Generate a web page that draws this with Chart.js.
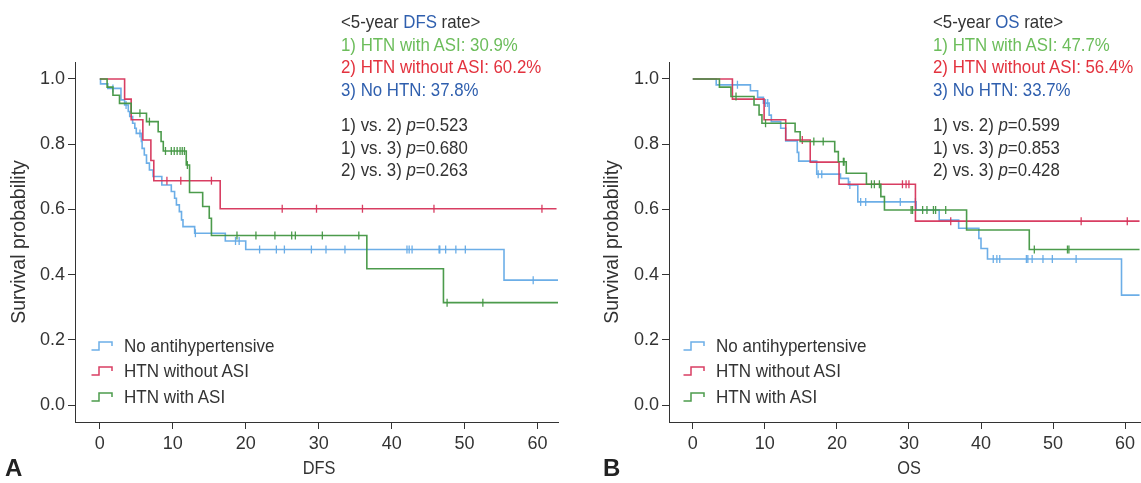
<!DOCTYPE html>
<html>
<head>
<meta charset="utf-8">
<script src="https://cdn.jsdelivr.net/npm/chart.js@4.4.0/dist/chart.umd.min.js"></script>
<style>
  body {
    margin: 0;
    background: #fff;
    width: 1141px;
    height: 483px;
    overflow: hidden;
    position: relative;
    font-family: "Liberation Sans", Arial, sans-serif;
    color: #333;
  }
  canvas { position: absolute; top: 0; }
  #dfsChart { left: 0; }
  #osChart { left: 575px; }
  /* the source figure uses a condensed face, so squeeze the text horizontally */
  .note { position: absolute; font-size: 18.5px; line-height: 22.5px; white-space: nowrap; transform: scaleX(0.91); transform-origin: left top; }
  .legend { position: absolute; font-size: 18.5px; white-space: nowrap; }
  .legend .row { display: flex; align-items: center; height: 25.5px; }
  .legend svg { margin-right: 11px; }
  .legend span { display: inline-block; transform: scaleX(0.92); transform-origin: left center; }
  .xtitle { position: absolute; top: 457px; font-size: 19px; line-height: 22px; transform: translateX(-50%) scaleX(0.86); white-space: nowrap; }
  .panel { position: absolute; top: 455px; font-weight: bold; font-size: 24px; line-height: 26px; color: #222; }
  .g { color: #6cbd5b; }
  .r { color: #e3323e; }
  .b { color: #2f5fae; }
  .p { font-style: italic; }
</style>
</head>
<body>
<canvas id="dfsChart" width="575" height="483"></canvas>
<canvas id="osChart" width="590" height="483"></canvas>

<div class="note" style="left:341px; top:11px">
  &lt;5-year <span class="b">DFS</span> rate&gt;<br>
  <span class="g">1) HTN with ASI: 30.9%</span><br>
  <span class="r">2) HTN without ASI: 60.2%</span><br>
  <span class="b">3) No HTN: 37.8%</span>
</div>
<div class="note" style="left:341px; top:114px">
  1) vs. 2) <span class="p">p</span>=0.523<br>
  1) vs. 3) <span class="p">p</span>=0.680<br>
  2) vs. 3) <span class="p">p</span>=0.263
</div>

<div class="note" style="left:933px; top:11px">
  &lt;5-year <span class="b">OS</span> rate&gt;<br>
  <span class="g">1) HTN with ASI: 47.7%</span><br>
  <span class="r">2) HTN without ASI: 56.4%</span><br>
  <span class="b">3) No HTN: 33.7%</span>
</div>
<div class="note" style="left:933px; top:114px">
  1) vs. 2) <span class="p">p</span>=0.599<br>
  1) vs. 3) <span class="p">p</span>=0.853<br>
  2) vs. 3) <span class="p">p</span>=0.428
</div>

<div class="legend" id="dfsLegend" style="left:91px; top:333px"></div>
<div class="legend" id="osLegend" style="left:683px; top:333px"></div>

<div class="xtitle" id="dfsTitle">DFS</div>
<div class="xtitle" id="osTitle">OS</div>
<div class="panel" style="left:5px">A</div>
<div class="panel" style="left:603px">B</div>

<script>
// axis ticks
const xTicks = [0, 10, 20, 30, 40, 50, 60];
const yTicks = [0, 0.2, 0.4, 0.6, 0.8, 1.0];

const legendLabels = ['No antihypertensive', 'HTN without ASI', 'HTN with ASI'];
const blueColor = 'rgba(100, 170, 230, 0.95)';
const redColor = 'rgba(214, 52, 90, 0.95)';
const greenColor = 'rgba(66, 150, 66, 0.95)';
const legendColors = [blueColor, redColor, greenColor];

// DFS - step points (time, survival after the drop) and censored times
const dfsBlueT = [0, 0.1, 1.1, 2.9, 3.4, 3.9, 4.1, 4.5, 4.8, 5.0, 5.7, 5.8, 6.1, 6.4, 6.8, 7.3, 8.5, 9.8, 10.25, 10.5, 10.9, 11.2, 11.4, 13.0, 17.2, 20.0, 55.4, 62.8];
const dfsBlueS = [1, 0.985, 0.971, 0.936, 0.92, 0.90, 0.885, 0.864, 0.849, 0.833, 0.808, 0.787, 0.767, 0.742, 0.721, 0.701, 0.675, 0.655, 0.634, 0.614, 0.593, 0.568, 0.547, 0.527, 0.503, 0.477, 0.383, 0.383];
const dfsBlueCens = [1.8, 3.6, 5.5, 13.1, 18.6, 19.1, 21.9, 24.2, 25.3, 29.0, 31.0, 33.6, 42.1, 42.4, 42.8, 46.5, 46.6, 47.4, 48.8, 50.1, 59.4];

const dfsRedT = [0, 3.4, 4.3, 5.9, 7.0, 7.4, 16.5, 62.6];
const dfsRedS = [1, 0.938, 0.875, 0.813, 0.75, 0.688, 0.602, 0.602];
const dfsRedCens = [9.2, 11.1, 15.3, 25.0, 29.7, 36.0, 45.8, 60.6];

const dfsGreenT = [0, 1.0, 1.8, 2.7, 4.3, 6.4, 8.0, 8.4, 8.7, 11.85, 12.3, 14.1, 15.0, 15.3, 36.6, 47.1, 62.8];
const dfsGreenS = [1, 0.975, 0.95, 0.925, 0.895, 0.869, 0.838, 0.808, 0.779, 0.736, 0.652, 0.609, 0.573, 0.52, 0.418, 0.314, 0.314];
const dfsGreenCens = [5.5, 6.8, 9.0, 9.8, 10.2, 10.6, 11.0, 11.3, 11.6, 12.0, 18.8, 21.4, 24.0, 26.3, 26.8, 30.5, 35.5, 47.6, 52.5];

// OS
const osBlueT = [0, 3.25, 8.0, 9.0, 9.8, 10.6, 10.9, 12.2, 12.9, 14.5, 14.7, 17.2, 20.5, 21.6, 22.9, 31.0, 34.2, 36.9, 39.7, 40.0, 40.9, 59.5, 62];
const osBlueS = [1, 0.982, 0.964, 0.944, 0.926, 0.889, 0.869, 0.849, 0.81, 0.775, 0.748, 0.708, 0.695, 0.675, 0.623, 0.598, 0.567, 0.542, 0.511, 0.48, 0.448, 0.337, 0.337];
const osBlueCens = [6.2, 10.1, 10.4, 17.4, 17.9, 21.8, 23.3, 24.0, 28.8, 30.9, 41.7, 42.2, 42.6, 46.3, 46.5, 47.1, 48.6, 49.9, 53.2];

const osRedT = [0, 5.5, 9.9, 12.9, 16.3, 20.3, 30.9, 62];
const osRedS = [1, 0.938, 0.875, 0.813, 0.745, 0.677, 0.564, 0.564];
const osRedCens = [15.2, 29.1, 29.6, 30.0, 35.8, 53.9, 60.3];

const osGreenT = [0, 3.7, 5.3, 8.5, 9.2, 9.6, 14.2, 14.9, 19.7, 20.2, 21.3, 24.1, 26.1, 26.6, 38.0, 46.7, 62];
const osGreenS = [1, 0.975, 0.946, 0.92, 0.89, 0.864, 0.838, 0.808, 0.777, 0.746, 0.711, 0.677, 0.639, 0.598, 0.537, 0.477, 0.477];
const osGreenCens = [6.0, 10.1, 16.8, 18.1, 20.9, 21.0, 24.8, 25.2, 25.9, 30.3, 30.5, 31.9, 32.5, 33.4, 33.7, 35.1, 47.4, 52.0, 52.2];

const fontFamily = '"Liberation Sans", Arial, sans-serif';

function stepPoints(times, surv) {
    return times.map((t, i) => ({ x: t, y: surv[i] }));
}

// censor marks sit on the curve: take the survival of the last step at or before the time
function censorPoints(cens, times, surv) {
    return cens.map(c => {
        let s = surv[0];
        for (let i = 0; i < times.length; i++) {
            if (times[i] <= c) s = surv[i];
        }
        return { x: c, y: s };
    });
}

function drawKM(id, curves, xMin, xMax, yWidth, rightPad, titlePad) {
    const datasets = [];
    curves.forEach(c => {
        datasets.push({
            data: stepPoints(c.t, c.s), stepped: true, borderColor: c.color,
            borderWidth: 1.6, pointRadius: 0, fill: false
        });
        datasets.push({
            data: censorPoints(c.cens, c.t, c.s), showLine: false, pointStyle: 'line',
            rotation: 90, pointRadius: 4, borderColor: c.color, borderWidth: 1.3
        });
    });

    const axisGrid = { drawOnChartArea: false, drawTicks: true, tickLength: 7, color: '#333' };
    const axisBorder = { display: true, color: '#333', width: 1 };

    return new Chart(document.getElementById(id), {
        type: 'line',
        data: { datasets },
        options: {
            responsive: false,
            animation: false,
            layout: { padding: { top: 62, right: rightPad, left: 0, bottom: 0 } },
            plugins: { legend: { display: false }, tooltip: { enabled: false } },
            scales: {
                x: {
                    type: 'linear', min: xMin, max: xMax,
                    afterBuildTicks: s => { s.ticks = xTicks.map(v => ({ value: v })); },
                    afterFit: s => { s.height = 61; },
                    grid: axisGrid, border: axisBorder,
                    ticks: { color: '#333', font: { family: fontFamily, size: 18 }, padding: 4, maxRotation: 0 }
                },
                y: {
                    type: 'linear', min: -0.052, max: 1.052,
                    afterBuildTicks: s => { s.ticks = yTicks.map(v => ({ value: v })); },
                    afterFit: s => { s.width = yWidth; },
                    grid: axisGrid, border: axisBorder,
                    ticks: { color: '#333', font: { family: fontFamily, size: 18 }, padding: 3, callback: v => v.toFixed(1) },
                    title: {
                        display: true, text: 'Survival probability', color: '#333',
                        font: { family: fontFamily, size: 19.5 }, padding: { top: titlePad, bottom: 0 }
                    }
                }
            }
        }
    });
}

const dfsChart = drawKM('dfsChart', [
    { t: dfsGreenT, s: dfsGreenS, cens: dfsGreenCens, color: greenColor },
    { t: dfsRedT, s: dfsRedS, cens: dfsRedCens, color: redColor },
    { t: dfsBlueT, s: dfsBlueS, cens: dfsBlueCens, color: blueColor }
], -3.4, 62.8, 75, 17, 8);

// the right panel is cut by the picture edge, so its canvas runs past the window
const osChart = drawKM('osChart', [
    { t: osGreenT, s: osGreenS, cens: osGreenCens, color: greenColor },
    { t: osRedT, s: osRedS, cens: osRedCens, color: redColor },
    { t: osBlueT, s: osBlueS, cens: osBlueCens, color: blueColor }
], -3.3, 64.8, 94, 0, 26);

// html legends with a small step icon
function buildLegend(elId) {
    const el = document.getElementById(elId);
    legendLabels.forEach((label, i) => {
        const row = document.createElement('div');
        row.className = 'row';
        row.innerHTML = '<svg width="22" height="10"><polyline points="0.5,9 8,9 8,1 21,1 21,5" fill="none" stroke="' +
            legendColors[i] + '" stroke-width="1.5"/></svg><span>' + label + '</span>';
        el.appendChild(row);
    });
}
buildLegend('dfsLegend');
buildLegend('osLegend');

// x titles centred under the 30 tick
document.getElementById('dfsTitle').style.left = dfsChart.scales.x.getPixelForValue(30) + 'px';
document.getElementById('osTitle').style.left = (575 + osChart.scales.x.getPixelForValue(30)) + 'px';
</script>
</body>
</html>
